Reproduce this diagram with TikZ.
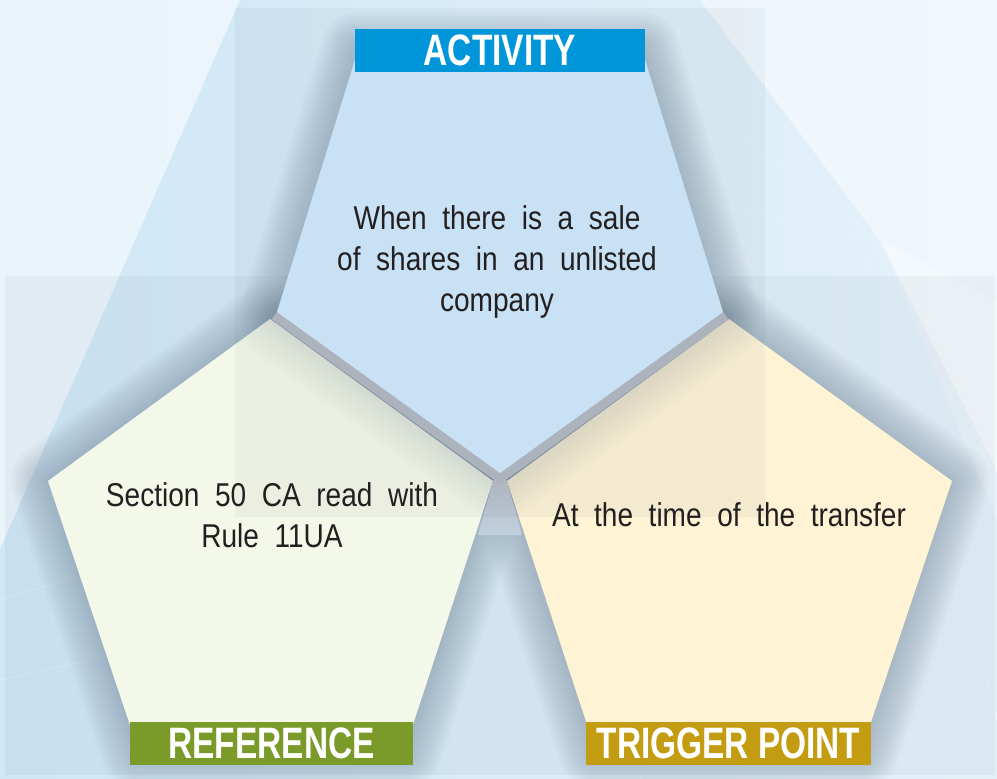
\documentclass[tikz,border=0pt]{standalone}
\usepackage{fontspec}
\setmainfont[FakeStretch=0.85,WordSpace=2]{Liberation Sans}
\newfontfamily\labelfont[FakeStretch=0.76]{Liberation Sans}
\definecolor{bgblue}{HTML}{CFE7F7}
\definecolor{bgright}{HTML}{E4F1F9}
\definecolor{shadowc}{HTML}{55687A}
\definecolor{gapgray}{HTML}{B2B8C2}
\definecolor{topfill}{HTML}{C8E1F4}
\definecolor{leftfill}{HTML}{F4F8E9}
\definecolor{rightfill}{HTML}{FEF3D5}
\definecolor{actc}{HTML}{0096D9}
\definecolor{refc}{HTML}{7A9A29}
\definecolor{trigc}{HTML}{C49C12}
\definecolor{txtc}{HTML}{231F20}
\tikzset{
  labelbox/.style={inner sep=0pt, text=white, minimum height=43pt,
    font=\labelfont\bfseries\fontsize{44}{44}\selectfont},
  bodytext/.style={inner sep=0pt, align=center, text=txtc,
    font=\fontsize{33}{41}\selectfont},
  overlay/.style={fill=shadowc, fill opacity=0.06},
  softshadow/.style={shadowc, opacity=0.02, line join=round},
}
\begin{document}
\begin{tikzpicture}[x=1pt,y=-1pt]
\useasboundingbox (0,0) rectangle (997,779);
% vertices
\coordinate (T1) at (358,50);  \coordinate (T2) at (642,50);
\coordinate (T3) at (723,312); \coordinate (T4) at (500,473);
\coordinate (T5) at (277,312);
\coordinate (L1) at (270,319); \coordinate (L2) at (493,481);
\coordinate (L3) at (404,752); \coordinate (L4) at (139,752);
\coordinate (L5) at (48,481);
\coordinate (R1) at (729,319); \coordinate (R2) at (952,481);
\coordinate (R3) at (861,752); \coordinate (R4) at (596,752);
\coordinate (R5) at (507,481);
% background
\shade[left color=bgblue, right color=bgright] (0,0) rectangle (997,779);
\fill[white, opacity=0.55] (0,0) -- (240,0) -- (0,549) -- cycle;
\fill[white, opacity=0.5] (700,0) -- (997,0) -- (997,470) -- (880,240) -- cycle;
\fill[white, opacity=0.25] (880,240) -- (997,300) -- (997,520) -- cycle;
\foreach \a/\b in {{(880,240)}/{(560,0)}, {(880,240)}/{(997,80)}, {(880,240)}/{(640,779)}, {(880,240)}/{(997,720)}, {(880,240)}/{(520,160)}}
  \draw[white, opacity=0.25, line width=0.8pt] \a -- \b;
\foreach \a/\b in {{(0,600)}/{(200,540)}, {(0,680)}/{(180,640)}}
  \draw[white, opacity=0.3, line width=0.8pt] \a -- \b;
% lower translucent panel
\fill[overlay] (5,276) rectangle (995,775);
% shadows
\foreach \w in {4,8,...,76}{
  \draw[softshadow, line width=\w pt] (L1) -- (L2) -- (L3) -- (L4) -- (L5) -- cycle;
  \draw[softshadow, line width=\w pt] (R1) -- (R2) -- (R3) -- (R4) -- (R5) -- cycle;
  \draw[softshadow, line width=\w pt] (T1) -- (T2) -- (T3) -- (T4) -- (T5) -- cycle;
}
% gap wedge between lower pentagons
\shade[top color=gapgray, bottom color=gapgray!50!bgblue] (500,470) -- (L2) -- (478,535) -- (522,535) -- (R5) -- cycle;
% lower pentagons
\fill[leftfill] (L1) -- (L2) -- (L3) -- (L4) -- (L5) -- cycle;
\fill[rightfill] (R1) -- (R2) -- (R3) -- (R4) -- (R5) -- cycle;
% shadow cast by the top pentagon onto the lower ones
\begin{scope}
  \clip (L1) -- (L2) -- (L3) -- (L4) -- (L5) -- cycle
        (R1) -- (R2) -- (R3) -- (R4) -- (R5) -- cycle;
  \foreach \w in {20,30,...,90}
    \draw[shadowc, opacity=0.02, line width=\w pt, line join=round] (T1) -- (T2) -- (T3) -- (T4) -- (T5) -- cycle;
\end{scope}
% gray band round the top pentagon
\draw[gapgray, line width=18pt, line join=miter] (T3) -- (T4) -- (T5);
% upper translucent panel
\fill[overlay] (235,8) rectangle (765,517);
% top pentagon
\fill[topfill] (T1) -- (T2) -- (T3) -- (T4) -- (T5) -- cycle;
% labels
\node[labelbox, fill=actc, minimum width=290pt] (actlab) at (500,50.5) {ACTIVITY};
\node[labelbox, fill=refc, minimum width=283pt] (reflab) at (271.5,743.5) {REFERENCE};
\node[labelbox, fill=trigc, minimum width=285pt] (triglab) at (728.5,743.5) {TRIGGER POINT};
% texts
\node[bodytext] (acttext) at (497,262) {When there is a sale\\of shares in an unlisted\\company};
\node[bodytext] (reftext) at (272,515) {Section 50 CA read with\\Rule 11UA};
\node[bodytext] (trigtext) at (729,515) {At the time of the transfer};
\end{tikzpicture}
\end{document}
